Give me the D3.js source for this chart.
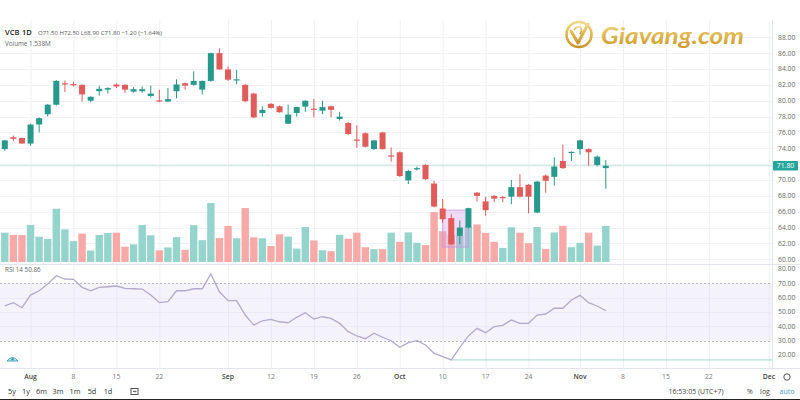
<!DOCTYPE html>
<html><head><meta charset="utf-8">
<script src="https://cdn.jsdelivr.net/npm/d3@7"></script>
<style>html,body{margin:0;padding:0;background:#fff;} svg{display:block;font-family:"Open Sans","Noto Sans",sans-serif;}</style>
</head><body><svg id="c" width="800" height="400"></svg>
<script>
// ---- data (bar 0 = 27 Jul, last bar = 4 Nov) ----
const opens  = [73.9,75.4,75.3,74.6,77.0,78.3,79.5,82.2,82.1,82.0,80.0,81.2,81.4,82.05,82.0,81.15,81.2,80.6,80.05,79.9,81.2,82.2,82.0,81.4,82.5,86.0,83.95,82.6,82.0,80.9,78.45,79.6,79.3,77.1,78.45,79.25,79.0,78.75,79.3,77.7,77.2,75.1,75.9,73.9,76.0,73.1,73.5,69.95,71.4,71.9,69.55,66.4,65.2,62.95,64.0,68.4,67.3,68.0,67.85,67.9,69.1,69.4,65.9,70.55,70.4,72.4,73.45,73.9,73.9,71.9,71.5];
const highs  = [75.05,75.6,75.35,77.1,77.9,79.6,82.6,82.55,82.4,82.05,80.55,81.9,81.7,82.2,82.1,81.7,81.8,81.9,81.4,81.6,82.7,82.3,83.7,82.55,86.05,86.6,84.3,83.9,82.1,81.0,79.3,79.7,79.4,79.5,79.25,80.05,80.25,80.0,79.4,78.6,77.3,76.9,76.0,75.05,76.05,74.1,73.6,71.3,71.7,72.0,69.9,67.6,65.7,64.9,66.5,68.5,67.9,68.1,68.0,70.0,70.75,69.5,69.9,70.7,72.85,74.45,73.6,75.1,74.0,73.1,72.5];
const lows   = [73.7,74.9,74.6,74.3,76.0,78.0,79.4,81.1,81.8,79.9,79.8,80.65,80.9,81.6,81.0,81.0,81.0,80.4,79.8,79.8,80.3,81.4,81.9,80.8,82.4,83.9,82.5,82.1,79.8,77.8,78.0,79.0,78.5,77.05,78.0,78.6,77.9,78.3,77.9,77.5,75.7,74.05,74.1,73.8,73.85,72.3,70.4,69.5,71.2,70.0,66.55,64.6,61.8,61.9,63.9,67.3,65.5,67.2,67.2,66.95,67.8,65.8,65.8,68.4,69.3,71.4,72.4,73.2,71.8,71.7,68.9];
const closes = [75.0,75.2,74.6,77.0,77.8,79.5,82.5,82.1,82.0,80.8,80.5,81.5,81.6,81.8,81.4,81.45,81.45,80.9,79.95,80.2,82.05,81.9,82.5,82.5,86.0,83.95,82.65,82.7,79.95,77.9,78.85,79.1,78.55,78.25,79.2,80.0,78.85,79.2,78.85,78.0,75.8,75.0,74.2,75.0,73.9,73.0,70.5,71.15,71.5,70.1,66.65,65.05,61.9,64.0,66.45,68.0,66.2,67.65,67.8,69.1,67.9,67.9,69.8,69.9,71.7,71.5,73.55,75.0,73.5,72.95,71.8];
const volumes = [1.25,1.15,1.15,1.58,1.08,0.98,2.27,1.39,0.89,1.21,0.49,1.15,1.24,1.25,0.65,0.75,1.58,1.14,0.50,0.62,1.06,0.52,1.57,0.93,2.51,1.02,1.54,1.01,2.30,1.05,1.01,0.68,1.18,1.08,0.57,1.49,0.92,0.50,0.46,1.16,0.99,1.25,0.63,0.55,0.55,1.25,0.86,1.26,0.82,0.72,2.13,1.31,1.15,1.12,1.51,1.60,1.24,0.86,0.60,1.48,1.25,0.80,1.49,0.56,1.26,1.54,0.63,0.82,1.25,0.70,1.538];
const volumeUp = [1,0,0,1,1,1,1,1,1,0,1,1,1,0,0,1,1,1,0,1,1,0,1,1,1,0,0,1,0,0,1,0,0,1,1,1,0,1,0,1,0,0,0,1,0,1,0,1,1,0,0,0,0,1,1,0,0,0,1,1,0,0,1,0,1,0,1,1,0,1,1];
const rsi = [54.2,56.5,53.0,61.8,64.8,69.5,75.3,73.0,72.8,67.2,64.8,67.2,67.6,68.1,66.5,66.2,66.0,61.8,56.5,57.2,64.8,64.8,66.2,66.2,76.5,64.1,57.9,57.9,47.9,40.9,43.9,44.9,43.2,42.5,46.3,49.5,45.1,46.7,45.6,42.1,36.3,33.3,31.4,35.2,32.4,30.0,25.4,28.6,30.0,27.0,21.2,18.9,16.6,25.4,33.3,38.6,35.6,39.8,40.7,44.4,42.1,42.1,47.9,48.6,52.6,52.6,58.4,61.6,56.5,54.2,50.86];
const tickIndex  = [3,8,13,18,26,31,36,41,46,51,56,61,67,72,77,82,89];
const tickLabels = ["Aug","8","15","22","Sep","12","19","26","Oct","10","17","24","Nov","8","15","22","Dec"];
const priceTicks = [60,62,64,66,68,70,72,74,76,78,80,82,84,86,88];
const rsiTicks = [20,30,40,50,60,70,80];
const lastPrice = 71.80;
const highlight = {from:51, to:54, top:66.2, bottom:61.55};
const ranges = ["5y","1y","6m","3m","1m","5d","1d"];

// ---- layout ----
const svg = d3.select("#c");
const paneR = 772, paneTop = 20, priceBottom = 264, rsiBottom = 368;
const x = d3.scaleLinear().domain([0,70]).range([4.8,605.8]);
const step = x(1)-x(0);
const yP = d3.scaleLinear().domain([60,88]).range([259.3,37.3]);
const yV = d3.scaleLinear().domain([0,1]).range([262,262-23.46]);
const yR = d3.scaleLinear().domain([30,70]).range([340.7,283.3]);
const UP="#27998c", DOWN="#e25b5b";

const defs = svg.append("defs");
const cp = defs.append("clipPath").attr("id","pp");
cp.append("rect").attr("x",0).attr("y",paneTop).attr("width",paneR).attr("height",priceBottom-paneTop);
const g1 = defs.append("linearGradient").attr("id","gold").attr("x1","0").attr("y1","0").attr("x2","0").attr("y2","1");
g1.append("stop").attr("offset","0").attr("stop-color","#f2d98a");
g1.append("stop").attr("offset","0.5").attr("stop-color","#e0b54e");
g1.append("stop").attr("offset","1").attr("stop-color","#c8952c");

// grid
svg.append("g").selectAll("line").data(tickIndex).join("line")
  .attr("x1",d=>x(d)+0.5).attr("x2",d=>x(d)+0.5).attr("y1",paneTop).attr("y2",rsiBottom)
  .attr("stroke","#eef0f4");
svg.append("g").selectAll("line").data(priceTicks).join("line")
  .attr("x1",0).attr("x2",paneR).attr("y1",d=>Math.round(yP(d))+0.5).attr("y2",d=>Math.round(yP(d))+0.5)
  .attr("stroke","#f1f2f6");

// RSI band
svg.append("rect").attr("x",0).attr("width",paneR).attr("y",yR(70)).attr("height",yR(30)-yR(70)).attr("fill","#f4f2fa");
svg.append("g").selectAll("line").data([40,50,60]).join("line")
  .attr("x1",0).attr("x2",paneR).attr("y1",d=>Math.round(yR(d))+0.5).attr("y2",d=>Math.round(yR(d))+0.5).attr("stroke","#eceaf4");
svg.append("g").selectAll("line").data(tickIndex).join("line")
  .attr("x1",d=>x(d)+0.5).attr("x2",d=>x(d)+0.5).attr("y1",yR(70)).attr("y2",yR(30)).attr("stroke","#e9e7f2");
svg.append("g").selectAll("line").data([70,30]).join("line")
  .attr("x1",0).attr("x2",paneR).attr("y1",d=>Math.round(yR(d))+0.5).attr("y2",d=>Math.round(yR(d))+0.5)
  .attr("stroke","#b8b8c4").attr("stroke-dasharray","2,2");

// last price line
svg.append("line").attr("x1",0).attr("x2",paneR).attr("y1",yP(lastPrice)).attr("y2",yP(lastPrice)).attr("stroke","#c9e2df");

const pg = svg.append("g").attr("clip-path","url(#pp)");
// volume
pg.append("g").selectAll("rect").data(volumes).join("rect")
  .attr("x",(d,i)=>x(i)-step/2+0.6).attr("width",step-1.2)
  .attr("y",d=>yV(d)).attr("height",d=>yV(0)-yV(d))
  .attr("fill",(d,i)=>volumeUp[i]?"#95d4cc":"#f6a9a7");
// highlight box
pg.append("rect").attr("x",x(highlight.from)).attr("width",x(highlight.to)-x(highlight.from))
  .attr("y",yP(highlight.top)).attr("height",yP(highlight.bottom)-yP(highlight.top))
  .attr("fill","rgba(212,160,228,0.38)").attr("stroke","rgba(196,150,220,0.8)");
// candles
const cg = pg.append("g");
opens.forEach((o,i)=>{
  const c=closes[i], col = c>=o?UP:DOWN;
  cg.append("line").attr("x1",x(i)).attr("x2",x(i)).attr("y1",yP(highs[i])).attr("y2",yP(lows[i])).attr("stroke",col).attr("stroke-width",1);
  const y0=yP(Math.max(o,c)), y1=yP(Math.min(o,c));
  cg.append("rect").attr("x",x(i)-3).attr("width",6).attr("y",y0).attr("height",Math.max(1.2,y1-y0)).attr("fill",col);
});

// RSI line
const imin = d3.minIndex(rsi);
svg.append("line").attr("x1",x(imin)).attr("x2",paneR).attr("y1",yR(rsi[imin])).attr("y2",yR(rsi[imin])).attr("stroke","#a8d9d3");
svg.append("path").datum(rsi).attr("fill","none").attr("stroke","#b3a9cc").attr("stroke-width",1.3)
  .attr("d",d3.line().x((d,i)=>x(i)).y(d=>yR(d)));

// separators
svg.append("line").attr("x1",0).attr("x2",800).attr("y1",priceBottom+0.5).attr("y2",priceBottom+0.5).attr("stroke","#e3e5ec");
svg.append("line").attr("x1",0).attr("x2",800).attr("y1",rsiBottom+0.5).attr("y2",rsiBottom+0.5).attr("stroke","#e3e5ec");
svg.append("line").attr("x1",paneR+0.5).attr("x2",paneR+0.5).attr("y1",paneTop).attr("y2",rsiBottom).attr("stroke","#e3e5ec");
svg.append("line").attr("x1",0).attr("x2",800).attr("y1",399.5).attr("y2",399.5).attr("stroke","#222");

// right axis labels
const ax = svg.append("g").attr("font-size","6.8px").attr("fill","#666");
ax.selectAll("text.p").data(priceTicks).join("text").attr("class","p")
  .attr("x",778).attr("y",d=>yP(d)).attr("dy","0.35em").text(d=>d.toFixed(2));
ax.selectAll("text.r").data(rsiTicks).join("text").attr("class","r")
  .attr("x",778).attr("y",d=>yR(d)).attr("dy","0.35em").text(d=>d.toFixed(2));
svg.append("rect").attr("x",773).attr("y",yP(lastPrice)-4.8).attr("width",25).attr("height",9.6).attr("rx",1).attr("fill","#26a69a");
svg.append("text").attr("x",785.5).attr("y",yP(lastPrice)).attr("dy","0.35em").attr("text-anchor","middle")
  .attr("font-size","6.8px").attr("fill","#fff").text(lastPrice.toFixed(2));

// time axis
svg.append("g").selectAll("text").data(tickIndex).join("text")
  .attr("x",d=>x(d)).attr("y",379).attr("text-anchor","middle").attr("font-size","6.8px")
  .attr("fill",(d,i)=>isNaN(+tickLabels[i])?"#444":"#777")
  .attr("font-weight",(d,i)=>isNaN(+tickLabels[i])?"600":"400")
  .text((d,i)=>tickLabels[i]);
svg.append("circle").attr("cx",787).attr("cy",377).attr("r",3.2).attr("fill","none").attr("stroke","#555").attr("stroke-width",1);

// legends
svg.append("text").attr("x",5).attr("y",35).attr("font-size","7.5px").attr("fill","#222").attr("font-weight","600").text("VCB");
svg.append("text").attr("x",22).attr("y",35).attr("font-size","7.5px").attr("fill","#222").attr("font-weight","600").text("1D");
svg.append("text").attr("x",38).attr("y",35).attr("font-size","6px").attr("fill","#555")
  .text("O71.50 H72.50 L68.90 C71.80 −1.20 (−1.64%)");
svg.append("text").attr("x",5).attr("y",46).attr("font-size","6.3px").attr("fill","#666").text("Volume  1.538M");
svg.append("text").attr("x",5).attr("y",272).attr("font-size","6.3px").attr("fill","#666").text("RSI 14  50.86");

// small eye icon in RSI pane
svg.append("path").attr("d","M7,361 Q12.5,354 18,361 Z").attr("fill","#bfe3ea").attr("stroke","#3a9bb4").attr("stroke-width",0.9);
svg.append("circle").attr("cx",12.5).attr("cy",359.3).attr("r",1.2).attr("fill","#3a9bb4");

// toolbar
const tb = svg.append("g").attr("font-size","7.3px").attr("fill","#333");
const rx = [12,26,41.5,58,75,92,108];
tb.selectAll("text").data(ranges).join("text").attr("x",(d,i)=>rx[i]).attr("y",394).attr("text-anchor","middle").text(d=>d);
svg.append("rect").attr("x",131).attr("y",388.5).attr("width",7).attr("height",6).attr("fill","none").attr("stroke","#444").attr("stroke-width",0.9);
svg.append("path").attr("d","M133,391.5 h3 l-1,-1 M136,391.5 l-1,1").attr("stroke","#444").attr("fill","none").attr("stroke-width",0.8);
svg.append("text").attr("x",696).attr("y",394).attr("text-anchor","middle").attr("font-size","7px").attr("fill","#444").text("16:53:05 (UTC+7)");
svg.append("text").attr("x",750).attr("y",394).attr("text-anchor","middle").attr("font-size","7px").attr("fill","#444").text("%");
svg.append("text").attr("x",765).attr("y",394).attr("text-anchor","middle").attr("font-size","7px").attr("fill","#444").text("log");
svg.append("text").attr("x",787).attr("y",394).attr("text-anchor","middle").attr("font-size","7px").attr("fill","#3f9fc0").text("auto");

// watermark logo
const lg = svg.append("g");
lg.append("circle").attr("cx",579).attr("cy",34.5).attr("r",12.5).attr("fill","none").attr("stroke","url(#gold)").attr("stroke-width",2.6);
lg.append("path").attr("d","M571,31 L578,43 L588,24").attr("fill","none").attr("stroke","url(#gold)").attr("stroke-width",3).attr("stroke-linecap","round").attr("stroke-linejoin","round");
lg.append("path").attr("d","M574,30 Q576,26 580,27 Q583,29 580,34").attr("fill","none").attr("stroke","url(#gold)").attr("stroke-width",1.6);
lg.append("text").attr("x",601).attr("y",44).attr("font-size","22px").attr("font-weight","700")
  .attr("font-family","Lato, 'Open Sans', sans-serif").attr("font-style","italic")
  .attr("fill","url(#gold)").attr("textLength",143).attr("lengthAdjust","spacingAndGlyphs").text("Giavang.com");
</script></body></html>
